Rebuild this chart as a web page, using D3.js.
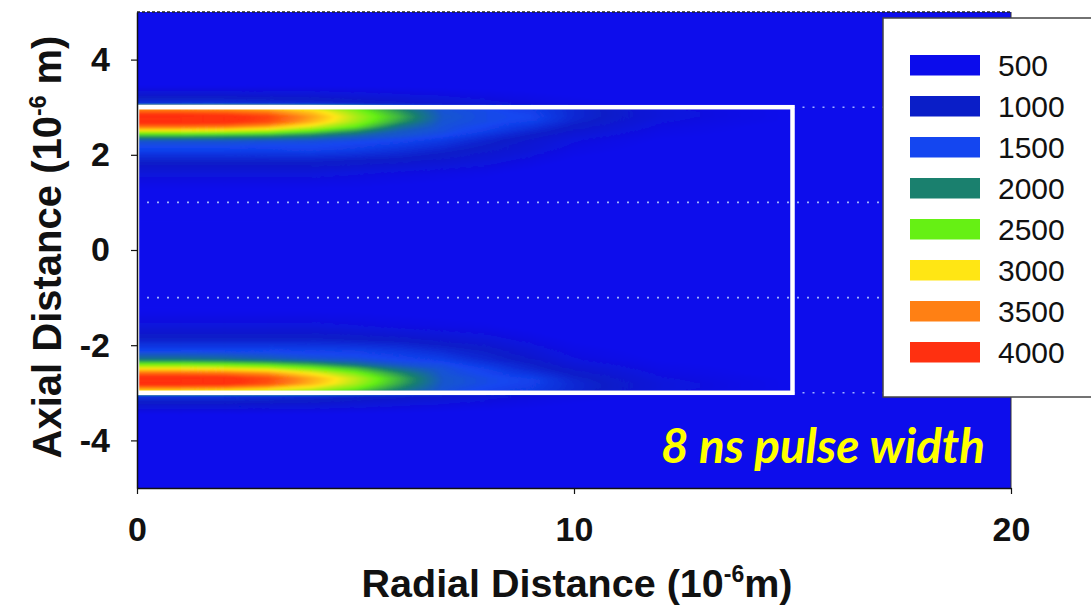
<!DOCTYPE html>
<html>
<head>
<meta charset="utf-8">
<script src="https://cdn.jsdelivr.net/npm/d3@7"></script>
<style>
  html, body { margin: 0; padding: 0; background: #ffffff; }
  svg { display: block; }
</style>
</head>
<body>
<svg id="chart" width="1091" height="606"></svg>
<script>
// Temperature field sampled on a radial (x) by axial (y) grid, in units of 10^-6 m.
const radialPositions = [0, 1, 2, 3, 4, 5, 6, 7, 8, 9, 10, 12, 15, 20];
const axialPositions = [5, 3.5, 3.05, 3.0, 2.9, 2.8, 2.7, 2.6, 2.5, 2.4, 2.3, 2.1, 1.9, 1.6, 1.2, 0,
  -1.2, -1.6, -1.9, -2.1, -2.3, -2.4, -2.5, -2.6, -2.7, -2.8, -2.9, -3.0, -3.05, -3.5, -5];

// One row of temperatures per axial position, one value per radial position.
const temperatureRows = [
  [400, 400, 400, 400, 400, 400, 400, 400, 400, 400, 400, 400, 400, 400],
  [420, 420, 420, 420, 420, 420, 420, 410, 400, 400, 400, 400, 400, 400],
  [1300, 1300, 1300, 1250, 1200, 1100, 1000, 900, 800, 700, 600, 500, 450, 400],
  [3200, 3200, 3150, 3000, 2800, 2450, 1950, 1600, 1500, 1400, 1150, 700, 500, 400],
  [3700, 3700, 3650, 3500, 3150, 2650, 2150, 1620, 1550, 1450, 1150, 750, 500, 400],
  [4150, 4150, 4100, 3900, 3350, 2750, 2250, 1650, 1550, 1500, 1150, 750, 500, 400],
  [4150, 4150, 4100, 3850, 3250, 2700, 2150, 1620, 1550, 1450, 1100, 700, 500, 400],
  [3600, 3600, 3550, 3300, 2900, 2500, 1900, 1600, 1500, 1300, 1000, 650, 450, 400],
  [2850, 2850, 2800, 2700, 2450, 2100, 1700, 1580, 1420, 1150, 900, 600, 450, 400],
  [2200, 2200, 2150, 2100, 1950, 1750, 1620, 1520, 1250, 1000, 800, 550, 450, 400],
  [1650, 1650, 1650, 1620, 1600, 1550, 1500, 1350, 1100, 900, 700, 500, 400, 400],
  [1450, 1450, 1450, 1430, 1450, 1380, 1250, 1100, 950, 800, 600, 450, 400, 400],
  [1100, 1100, 1100, 1100, 1100, 1050, 1000, 900, 800, 650, 500, 400, 400, 400],
  [750, 750, 750, 750, 750, 700, 650, 600, 550, 450, 400, 400, 400, 400],
  [450, 450, 450, 450, 450, 450, 420, 400, 400, 400, 400, 400, 400, 400],
  [400, 400, 400, 400, 400, 400, 400, 400, 400, 400, 400, 400, 400, 400],
  [450, 450, 450, 450, 450, 450, 420, 400, 400, 400, 400, 400, 400, 400],
  [750, 750, 750, 750, 750, 700, 650, 600, 550, 450, 400, 400, 400, 400],
  [1100, 1100, 1100, 1100, 1100, 1050, 1000, 900, 800, 650, 500, 400, 400, 400],
  [1450, 1450, 1450, 1450, 1420, 1400, 1300, 1150, 1000, 800, 600, 450, 400, 400],
  [1900, 1900, 1850, 1750, 1650, 1600, 1500, 1400, 1150, 950, 700, 500, 400, 400],
  [2500, 2500, 2450, 2350, 2150, 1850, 1620, 1550, 1300, 1050, 800, 550, 450, 400],
  [3000, 3000, 2950, 2850, 2600, 2300, 1850, 1600, 1450, 1150, 900, 600, 450, 400],
  [3650, 3650, 3600, 3400, 3000, 2600, 2100, 1620, 1500, 1300, 1000, 650, 450, 400],
  [4150, 4150, 4100, 3850, 3300, 2800, 2250, 1650, 1550, 1450, 1100, 700, 500, 400],
  [4150, 4150, 4100, 3800, 3250, 2750, 2200, 1650, 1550, 1450, 1150, 750, 500, 400],
  [3400, 3400, 3350, 3150, 2900, 2550, 2050, 1620, 1500, 1400, 1150, 750, 500, 400],
  [2700, 2700, 2650, 2600, 2450, 2200, 1850, 1600, 1450, 1350, 1100, 700, 500, 400],
  [1300, 1300, 1300, 1250, 1200, 1100, 1000, 900, 800, 700, 600, 500, 450, 400],
  [420, 420, 420, 420, 420, 420, 420, 410, 400, 400, 400, 400, 400, 400],
  [400, 400, 400, 400, 400, 400, 400, 400, 400, 400, 400, 400, 400, 400]
];

const legendLevels = [500, 1000, 1500, 2000, 2500, 3000, 3500, 4000];
const levelColors = ["#0b0cec", "#0a1ec8", "#1446f0", "#1a806e", "#66f014", "#ffe614", "#ff8014", "#ff3010"];
const xTickValues = [0, 10, 20];
const yTickValues = [4, 2, 0, -2, -4];
const sampleBox = { r0: 0, r1: 15, z0: -3, z1: 3 };
const dottedLevels = [1, -1];
const edgeDotted = [3, -3];

const svg = d3.select("#chart");
const margin = { left: 137, right: 80, top: 12, bottom: 118 };
const W = 1091, H = 606;
const x = d3.scaleLinear().domain([0, 20]).range([margin.left, W - margin.right]);
const y = d3.scaleLinear().domain([-5, 5]).range([H - margin.bottom, margin.top]);
const color = d3.scaleLinear().domain(legendLevels).range(levelColors).clamp(true);

const defs = svg.append("defs");
defs.append("clipPath").attr("id", "plot-clip")
  .append("rect")
  .attr("x", x(0)).attr("y", y(5))
  .attr("width", x(20) - x(0)).attr("height", y(-5) - y(5));
defs.append("filter").attr("id", "soften")
  .attr("x", "-5%").attr("y", "-5%").attr("width", "110%").attr("height", "110%")
  .append("feGaussianBlur").attr("stdDeviation", 1.3);

// Plot background
svg.append("rect")
  .attr("x", x(0)).attr("y", y(5))
  .attr("width", x(20) - x(0)).attr("height", y(-5) - y(5))
  .attr("fill", color(400));

// Filled temperature contours
const nx = radialPositions.length, ny = axialPositions.length;
const gx = d3.scaleLinear().domain(radialPositions.map((_, i) => i + 0.5)).range(radialPositions.map(v => x(v)));
const gy = d3.scaleLinear().domain(axialPositions.map((_, j) => j + 0.5)).range(axialPositions.map(v => y(v)));
const gridToScreen = d3.geoTransform({
  point(px, py) { this.stream.point(gx(px), gy(py)); }
});
const path = d3.geoPath(gridToScreen);
const thresholds = d3.range(400, 4250, 25);
const bands = d3.contours().size([nx, ny]).thresholds(thresholds)(temperatureRows.flat());

svg.append("g").attr("clip-path", "url(#plot-clip)")
  .append("g").attr("filter", "url(#soften)")
  .selectAll("path").data(bands).join("path")
  .attr("d", path)
  .attr("fill", d => color(d.value))
  .attr("stroke", d => color(d.value))
  .attr("stroke-width", 0.5);

// Dotted reference lines
const dotted = svg.append("g").attr("clip-path", "url(#plot-clip)");
dotted.selectAll("line.full").data(dottedLevels).join("line")
  .attr("class", "full")
  .attr("x1", x(0)).attr("x2", x(20))
  .attr("y1", d => y(d)).attr("y2", d => y(d))
  .attr("stroke", "#9fb2ff").attr("stroke-width", 1.6)
  .attr("stroke-dasharray", "2,8");
dotted.selectAll("line.edge").data(edgeDotted).join("line")
  .attr("class", "edge")
  .attr("x1", x(sampleBox.r1)).attr("x2", x(20))
  .attr("y1", d => y(d)).attr("y2", d => y(d))
  .attr("stroke", "#9fb2ff").attr("stroke-width", 1.6)
  .attr("stroke-dasharray", "2,8");

// Sample outline
svg.append("rect")
  .attr("x", x(sampleBox.r0)).attr("y", y(sampleBox.z1))
  .attr("width", x(sampleBox.r1) - x(sampleBox.r0))
  .attr("height", y(sampleBox.z0) - y(sampleBox.z1))
  .attr("fill", "none").attr("stroke", "#ffffff").attr("stroke-width", 4.5);

// Frame: dashed top, thin right
svg.append("line")
  .attr("x1", x(0)).attr("x2", x(20)).attr("y1", y(5)).attr("y2", y(5))
  .attr("stroke", "#222").attr("stroke-width", 1.5).attr("stroke-dasharray", "3,2");
svg.append("line")
  .attr("x1", x(20)).attr("x2", x(20)).attr("y1", y(5)).attr("y2", y(-5))
  .attr("stroke", "#333").attr("stroke-width", 1);

const fontFamily = "'Liberation Sans', Arial, Helvetica, sans-serif";

// Axes
const xAxis = svg.append("g")
  .attr("transform", `translate(0,${y(-5)})`)
  .call(d3.axisBottom(x).tickValues(xTickValues).tickFormat(d => String(d))
    .tickSize(6).tickSizeOuter(0).tickPadding(23));
const yAxis = svg.append("g")
  .attr("transform", `translate(${x(0)},0)`)
  .call(d3.axisLeft(y).tickValues(yTickValues).tickFormat(d => String(d))
    .tickSize(6).tickSizeOuter(0).tickPadding(21));
[xAxis, yAxis].forEach(a => {
  a.select(".domain").attr("stroke", "#111").attr("stroke-width", 1.5);
  a.selectAll(".tick line").attr("stroke", "#111").attr("stroke-width", 1.2);
  a.selectAll(".tick text")
    .attr("fill", "#111")
    .style("font-family", fontFamily)
    .style("font-weight", "bold")
    .style("font-size", "34px");
});

// Axis titles
const xTitle = svg.append("text")
  .attr("x", 577).attr("y", 597)
  .attr("text-anchor", "middle")
  .style("font-family", fontFamily).style("font-weight", "bold").style("font-size", "39.5px")
  .attr("fill", "#111");
xTitle.append("tspan").text("Radial Distance (10");
xTitle.append("tspan").attr("dy", -15).style("font-size", "23px").text("-6");
xTitle.append("tspan").attr("dy", 15).text("m)");

const yTitle = svg.append("text")
  .attr("transform", "translate(61,247) rotate(-90)")
  .attr("text-anchor", "middle")
  .style("font-family", fontFamily).style("font-weight", "bold").style("font-size", "40px")
  .attr("fill", "#111");
yTitle.append("tspan").text("Axial Distance (10");
yTitle.append("tspan").attr("dy", -15).style("font-size", "23px").text("-6");
yTitle.append("tspan").attr("dy", 15).text(" m)");

// Annotation
svg.append("text")
  .attr("x", 661).attr("y", 463)
  .style("font-family", "Lato, 'Open Sans', sans-serif")
  .style("font-weight", "bold").style("font-style", "italic").style("font-size", "47.5px")
  .attr("fill", "#ffff00")
  .text("8 ns pulse width");

// Legend
const legend = svg.append("g");
legend.append("rect")
  .attr("x", 883).attr("y", 18).attr("width", 230).attr("height", 379)
  .attr("fill", "#ffffff").attr("stroke", "#444").attr("stroke-width", 1.5);
const rows = legend.selectAll("g.item").data(legendLevels).join("g")
  .attr("class", "item")
  .attr("transform", (d, i) => `translate(910,${55 + 41 * i})`);
rows.append("rect")
  .attr("width", 70).attr("height", 20.5)
  .attr("fill", d => color(d));
rows.append("text")
  .attr("x", 88).attr("y", 21)
  .style("font-family", fontFamily).style("font-size", "30px")
  .attr("fill", "#111")
  .text(d => d);
</script>
</body>
</html>
